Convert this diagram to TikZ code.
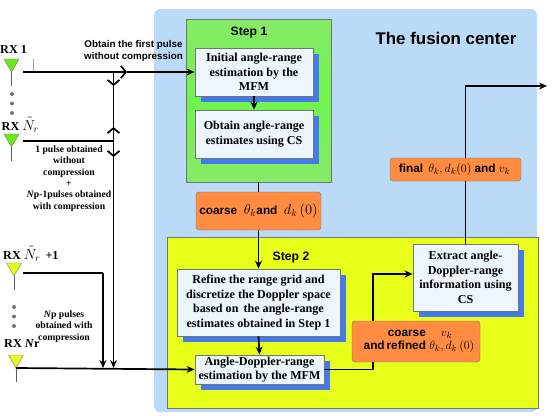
\documentclass[tikz,border=0pt]{standalone}
\usepackage{amsmath}
\usepackage{fontspec}
\setmainfont{Liberation Serif}
\setsansfont{Liberation Sans}
\usepackage{tikz}
\usepackage{xcolor}
\usetikzlibrary{arrows.meta, calc, shadows}
\definecolor{cPanel}{RGB}{187,218,248}
\definecolor{cGreen}{RGB}{112,244,78}
\definecolor{cGreenB}{RGB}{134,234,104}
\definecolor{cAntenna}{RGB}{104,236,20}
\definecolor{cYellow}{RGB}{232,255,26}
\definecolor{cOrange}{RGB}{255,140,64}
\definecolor{cBox}{RGB}{237,245,253}
\definecolor{cShadow}{RGB}{68,121,240}
\definecolor{cEdge}{RGB}{110,120,110}
\tikzset{
	panel/.style    ={rectangle, rounded corners=6pt, fill=cPanel, minimum width=383pt, minimum height=403pt, inner sep=0pt},
	stepa/.style    ={rectangle, draw=cEdge, thick, top color=cGreenB, bottom color=cGreenB, middle color=cGreen, minimum width=145pt, minimum height=163pt, inner sep=0pt},
	stepb/.style    ={rectangle, draw=cEdge, thick, fill=cYellow, minimum width=371pt, minimum height=171pt, inner sep=0pt},
	procbox/.style  ={rectangle, draw=cEdge, thick, fill=cBox, align=center, inner sep=0pt, font=\bfseries\fontsize{12.1}{14.6}\selectfont,
		drop shadow={shadow xshift=6pt, shadow yshift=-6pt, fill=cShadow, opacity=1}},
	estbox/.style   ={rectangle, rounded corners=3pt, draw=cEdge, fill=cOrange, align=center, inner sep=0pt, font=\sffamily\bfseries\fontsize{11.8}{13}\selectfont},
	title/.style    ={font=\sffamily\bfseries\fontsize{12.2}{14}\selectfont, inner sep=0pt},
	rxlabel/.style  ={font=\bfseries\fontsize{12.2}{14}\selectfont, anchor=west, inner sep=0pt},
	note/.style     ={font=\bfseries\fontsize{9.7}{11.3}\selectfont, align=center, inner sep=0pt},
	sig/.style      ={-{Stealth[length=8pt, width=7pt]}, line width=1.7pt},
	wire/.style     ={line width=1.7pt},
	chev/.style     ={-{Straight Barb[length=5pt, width=12pt, line width=1.7pt]}, line width=1.7pt},
}
% larger math in the labels
\newcommand{\lblm}[1]{{\fontsize{14.4}{14.4}\selectfont$#1$}}
\newcommand{\lblsm}[1]{{\fontsize{12.6}{12.6}\selectfont$#1$}}
% antenna: apex at (#2,#3)
\newcommand{\rxAnt}[4]{%
	\fill[#4] ({#2-7.5},{#3-13}) -- ({#2+7.5},{#3-13}) -- (#2,#3) -- cycle;
	\draw[cEdge] ({#2-7.5},{#3-13}) -- ({#2+7.5},{#3-13}) -- (#2,#3) -- cycle;
	\coordinate (#1) at (#2,#3);
	\draw[cEdge!80!black] (#1) -- ++(0,14);}
\newcommand{\rxDots}[2]{%
	\foreach \dy in {0,9.5,19} {\fill[cEdge] (#1,{#2+\dy}) circle (2pt);}}
\begin{document}
\begin{tikzpicture}[x=1pt,y=-1pt]
	\useasboundingbox (0,0) rectangle (554,415);
	% fusion center and the two steps
	\node[panel] (center) at (345.5,210.5) {};
	\node[title, font=\sffamily\bfseries\fontsize{16.9}{18}\selectfont] (centertitle) at (446,38) {The fusion center};
	\node[stepa] (stepone) at (258.5,100.5) {};
	\node[stepb] (steptwo) at (352.5,322.5) {};
	\node[title] (steponetitle) at (249,33) {Step 1};
	\node[title] (steptwotitle) at (291,258) {Step 2};
	% boxes
	\node[procbox, minimum width=118pt, minimum height=48pt] (init) at (254,72) {Initial angle-range\\estimation by the\\MFM};
	\node[procbox, minimum width=118pt, minimum height=48pt] (csone) at (254,134) {Obtain angle-range\\estimates using CS};
	\node[estbox, minimum width=125pt, minimum height=38pt] (coarse) at (258.5,211) {coarse\ \ \lblm{\theta_k}and\ \ \lblm{d_k\,(0)}};
	\node[procbox, minimum width=163pt, minimum height=67pt] (refine) at (258.5,302.5) {Refine the range grid and\\discretize the Doppler space\\based on\, the angle-range\\estimates obtained in Step 1};
	\node[procbox, minimum width=129pt, minimum height=29pt] (mfm) at (259.5,369.5) {Angle-Doppler-range\\estimation by the MFM};
	\node[procbox, minimum width=105pt, minimum height=67pt] (extract) at (465.5,277.5) {Extract angle-\\Doppler-range\\information using\\CS};
	\node[estbox, minimum width=128pt, minimum height=41pt] (refined) at (416,341.5) {\hspace*{8pt}coarse\quad\ \lblsm{v_k}\\\hspace*{6pt}and\,refined\ \lblsm{\theta_k, d_k\,(0)}};
	\node[estbox, minimum width=131pt, minimum height=23pt] (final) at (455.5,169.5) {\hspace*{-2pt}final\,\ \lblsm{\theta_k, d_k(0)} and \lblsm{v_k}};
	% antennas
	\rxAnt{antone}{11.5}{72}{cAntenna}
	\rxAnt{anttwo}{11.5}{147}{cAntenna}
	\rxAnt{antthree}{14}{276}{cYellow}
	\rxAnt{antfour}{16}{368}{cYellow}
	\rxDots{12}{94}
	\rxDots{14}{307}
	\node[rxlabel] (rxone) at (0,49) {RX 1};
	\node[rxlabel] (rxtwo) at (1.5,125) {RX \lblm{\tilde{N}_r}};
	\node[rxlabel] (rxthree) at (3,254) {RX \lblm{\tilde{N}_r} \,+1};
	\node[rxlabel] (rxfour) at (4,344) {RX \textit{N}r};
	% notes
	\node[font=\sffamily\bfseries\fontsize{9.8}{11.3}\selectfont, align=center, inner sep=0pt] (firstnote) at (133.5,51) {Obtain the first pulse\\without compression};
	\node[note] (midnote) at (69,178.5) {1 pulse obtained\\without\\compression\\+\\\textit{N}p-1pulses obtained\\with compression};
	\node[note] (lownote) at (64,326.5) {\textit{N}p pulses\\obtained with\\compression};
	% free ends and the bus
	\coordinate (startone) at (23,72);
	\coordinate (starttwo) at (23,141);
	\coordinate (startthree) at (23,273);
	\coordinate (busjoin) at (113.5,72);
	\coordinate (bustwo) at (113.5,141);
	\coordinate (busend) at (113.5,368);
	\coordinate (sidebend) at (103,273);
	\coordinate (sideend) at (103,368);
	\coordinate (chevmid) at (127,72);
	\coordinate (chevdown) at (113.5,86);
	\coordinate (chevup) at (113.5,127);
	\coordinate (chevlow) at (113.5,157);
	\coordinate (outlet) at (547,86);
	\coordinate (bendup) at (373,274);
	% grey stub at RX 1
	\draw[cEdge!70] (33,59) -- (33,72) -- (startone);
	% connectors
	\draw[chev] (startone) -- (chevmid);
	\draw[sig] (chevmid) -- (init.west);
	\draw[wire] (busjoin) -- (bustwo);
	\draw[chev] (busjoin) -- (chevdown);
	\draw[chev] (bustwo) -- (chevup);
	\draw[chev] (bustwo) -- (chevlow);
	\draw[wire] (starttwo) -- (bustwo);
	\draw[sig] (bustwo) -- (busend);
	\draw[wire] (startthree) -- (sidebend);
	\draw[sig] (sidebend) -- (sideend);
	\draw[sig] (antfour) -- (mfm.west);
	\draw[sig] (init.south) -- (csone.north);
	\draw[wire] (stepone.south) -- (coarse.north);
	\draw[sig] (coarse.south) -- (refine.north);
	\draw[sig] (refine.south) -- (mfm.north);
	\draw[wire] (mfm.east) -| (refined.south west -| bendup);
	\draw[sig] (refined.north west -| bendup) |- (extract.west |- bendup);
	\draw[wire] (extract.north) -- (extract.north |- final.south);
	\draw[sig] (extract.north |- final.north) |- (outlet);
\end{tikzpicture}
\end{document}
